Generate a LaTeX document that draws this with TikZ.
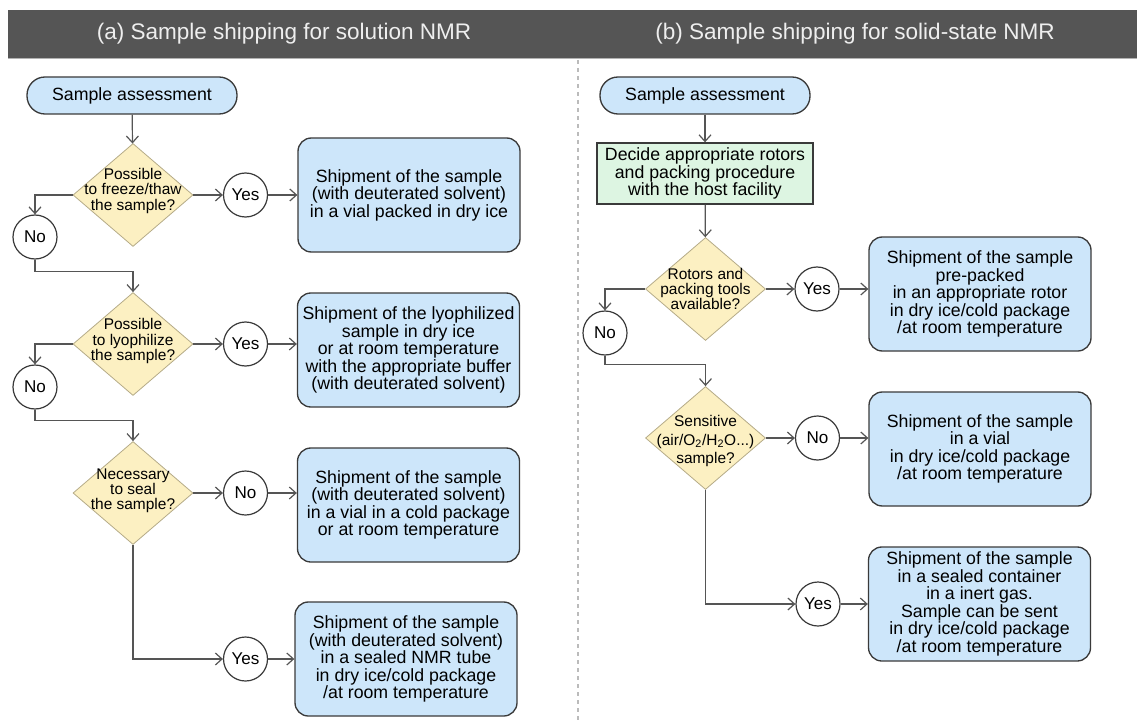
\documentclass[tikz,border=0pt]{standalone}
\usepackage{fontspec}
\setmainfont{Liberation Sans}
\usetikzlibrary{shapes.geometric, arrows.meta}

\definecolor{hdrgray}{HTML}{555555}
\definecolor{hdrtext}{HTML}{EEEEEE}
\definecolor{bluefill}{HTML}{CDE6FA}
\definecolor{yellowfill}{HTML}{FCF0C2}
\definecolor{greenfill}{HTML}{DDF5E2}
\definecolor{edgegray}{HTML}{3A3A3A}
\definecolor{wire}{HTML}{555555}
\definecolor{diaedge}{HTML}{B5AB88}
\definecolor{divider}{HTML}{BBBBBB}

\tikzset{
  boxfont/.style={font=\fontsize{13.3}{13.1}\selectfont},
  pill/.style={draw=edgegray, fill=bluefill, line width=1pt, rounded corners=13.5pt,
    minimum width=157.5pt, minimum height=27.75pt, inner sep=0pt, boxfont},
  outbox/.style={draw=edgegray, fill=bluefill, line width=1pt, rounded corners=10pt,
    minimum width=166.5pt, minimum height=85.5pt, inner sep=0pt, align=center, boxfont},
  plan/.style={draw=edgegray, fill=greenfill, line width=1pt,
    minimum width=162pt, minimum height=45.75pt, inner sep=0pt, align=center, boxfont},
  decision/.style={diamond, draw=diaedge, fill=yellowfill, line width=0.6pt,
    minimum width=90pt, minimum height=77.25pt, inner sep=0pt},
  dtext/.style={align=center, inner sep=0pt, font=\fontsize{11.6}{11.4}\selectfont},
  answer/.style={circle, draw=edgegray, fill=white, line width=0.9pt,
    minimum size=33pt, inner sep=0pt, font=\fontsize{12.8}{13}\selectfont},
  arr/.style={draw=wire, line width=0.9pt, -{Straight Barb[length=5pt, width=9pt]}},
  title/.style={text=hdrtext, font=\fontsize{16.9}{18}\selectfont},
}

\begin{document}
\begin{tikzpicture}[x=0.75pt, y=-0.75pt]
  \useasboundingbox (0,0) rectangle (1137,720);

  % header band and section titles
  \fill[hdrgray] (8,10) rectangle (1137,58);
  \draw[gray!60, line width=0.5pt] (8,58) -- (1137,58);
  \node[title] (ta) at (284,34) {(a) Sample shipping for solution NMR};
  \node[title] (tb) at (855,34) {(b) Sample shipping for solid-state NMR};

  % divider between the two flowcharts
  \draw[divider, line width=0.8pt, dash pattern=on 3pt off 3pt] (578,60) -- (578,720);

  % ---------------- (a) solution NMR ----------------
  \node[pill] (pa) at (132,95.5) {Sample assessment};

  \node[decision] (d1) at (133,195) {};
  \node[dtext] (d1t) at (133,191) {Possible\\to freeze/thaw\\the sample?};
  \node[answer] (y1) at (245.5,195) {Yes};
  \node[outbox] (b1) at (409,195) {Shipment of the sample\\(with deuterated solvent)\\in a vial packed in dry ice};
  \node[answer] (n1) at (35,237) {No};

  \node[decision] (d2) at (133,344) {};
  \node[dtext] (d2t) at (133,341) {Possible\\to lyophilize\\the sample?};
  \node[answer] (y2) at (245.5,344) {Yes};
  \node[outbox] (b2) at (408.5,350) {Shipment of the lyophilized\\sample in dry ice\\or at room temperature\\with the appropriate buffer\\(with deuterated solvent)};
  \node[answer] (n2) at (35,387) {No};

  \node[decision] (d3) at (133,493) {};
  \node[dtext] (d3t) at (133,491) {Necessary\\to seal\\the sample?};
  \node[answer] (n3) at (245.5,493) {No};
  \node[outbox] (b3) at (408.5,505) {Shipment of the sample\\(with deuterated solvent)\\in a vial in a cold package\\or at room temperature};

  \node[answer] (y4) at (245.5,659) {Yes};
  \node[outbox] (b4) at (406,659) {Shipment of the sample\\(with deuterated solvent)\\in a sealed NMR tube\\in dry ice/cold package\\/at room temperature};

  \draw[arr] (pa) -- (d1);
  \draw[arr] (d1.east) -- (y1);
  \draw[arr] (y1) -- (b1);
  \draw[arr] (d1.west) -| (n1.north);
  \draw[arr] (n1.south) -- ++(0,12) -| (d2.north);
  \draw[arr] (d2.east) -- (y2);
  \draw[arr] (y2.east) -- (y2.east -| b2.west);
  \draw[arr] (d2.west) -| (n2.north);
  \draw[arr] (n2.south) -- ++(0,11) -| (d3.north);
  \draw[arr] (d3.east) -- (n3);
  \draw[arr] (n3.east) -- (n3.east -| b3.west);
  \draw[arr] (d3.south) |- (y4.west);
  \draw[arr] (y4) -- (b4);

  % ---------------- (b) solid-state NMR ----------------
  \node[pill] (pb) at (705,95.5) {Sample assessment};
  \node[plan] (gr) at (705,173.5) {Decide appropriate rotors\\and packing procedure\\with the host facility};

  \node[decision] (e1) at (705.5,289) {};
  \node[dtext] (e1t) at (705.5,289) {Rotors and\\packing tools\\available?};
  \node[answer] (ry1) at (817,289) {Yes};
  \node[outbox] (rb1) at (980,294) {Shipment of the sample\\pre-packed\\in an appropriate rotor\\in dry ice/cold package\\/at room temperature};
  \node[answer] (rn1) at (605,333) {No};

  \node[decision] (e2) at (705.5,438) {};
  \node[dtext, font=\fontsize{11.6}{14}\selectfont] (e2t) at (705.5,441) {Sensitive\\(air/O\textsubscript{2}/H\textsubscript{2}O...)\\sample?};
  \node[answer] (rn2) at (817.5,438) {No};
  \node[outbox] (rb2) at (980,449) {Shipment of the sample\\in a vial\\in dry ice/cold package\\/at room temperature};

  \node[answer] (ry3) at (818,604) {Yes};
  \node[outbox] (rb3) at (979.5,604) {Shipment of the sample\\in a sealed container\\in a inert gas.\\Sample can be sent\\in dry ice/cold package\\/at room temperature};

  \draw[arr] (pb) -- (gr);
  \draw[arr] (gr) -- (e1);
  \draw[arr] (e1.east) -- (ry1);
  \draw[arr] (ry1.east) -- (ry1.east -| rb1.west);
  \draw[arr] (e1.west) -| (rn1.north);
  \draw[arr] (rn1.south) -- ++(0,9) -| (e2.north);
  \draw[arr] (e2.east) -- (rn2);
  \draw[arr] (rn2.east) -- (rn2.east -| rb2.west);
  \draw[arr] (e2.south) |- (ry3.west);
  \draw[arr] (ry3) -- (rb3);
\end{tikzpicture}
\end{document}
